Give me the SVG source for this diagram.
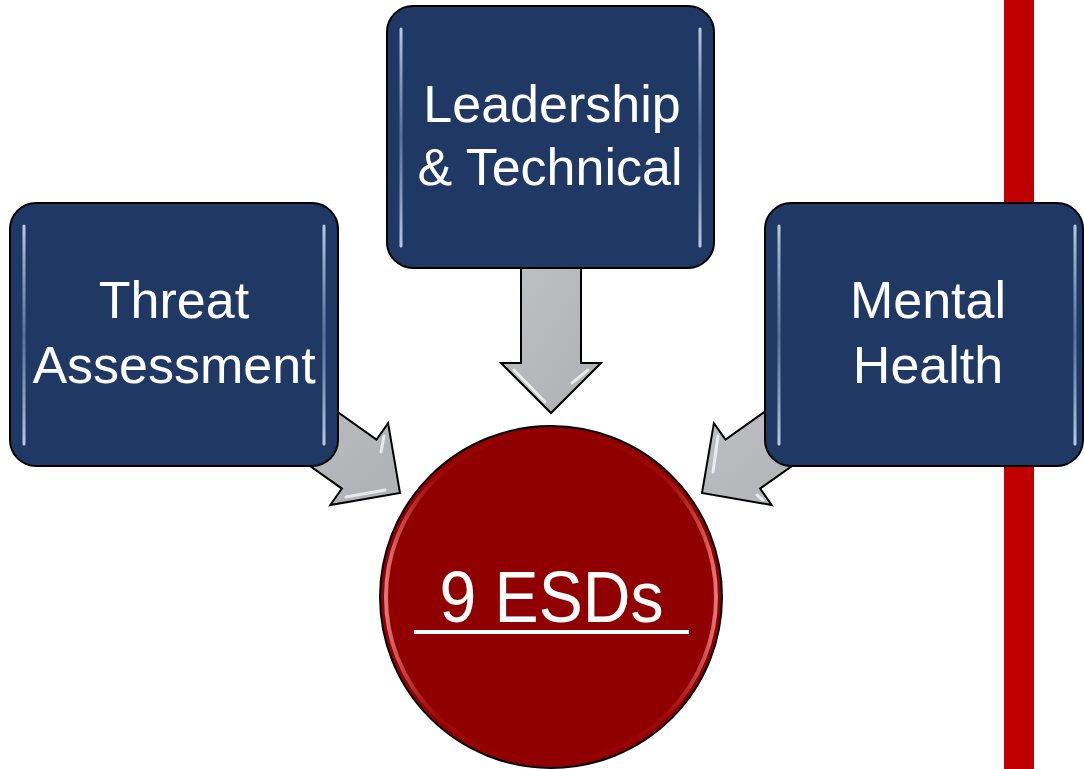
<svg xmlns="http://www.w3.org/2000/svg" width="1084" height="769" viewBox="0 0 1084 769">
  <defs>
    <style>
      .box { fill: #1F3864; stroke: #000; stroke-width: 2; }
      .gloss { stroke: url(#gv); stroke-width: 3; stroke-linecap: round; fill: none; }
      .lbl { font-family: "Liberation Sans", Arial, sans-serif; font-size: 52px; fill: #FFFFFF; text-anchor: middle; }
      .arrow { fill: url(#ag); stroke: #000; stroke-width: 2; stroke-linejoin: miter; }
      .shine { stroke: #FFFFFF; stroke-width: 3; stroke-linecap: round; opacity: 0.7; fill: none; }
    </style>
    <linearGradient id="gv" x1="0" y1="0" x2="0" y2="1">
      <stop offset="0" stop-color="#C9D8F2" stop-opacity="0.9"/>
      <stop offset="0.5" stop-color="#7E96C4" stop-opacity="0.6"/>
      <stop offset="1" stop-color="#C9D8F2" stop-opacity="0.9"/>
    </linearGradient>
    <linearGradient id="ag" x1="0" y1="0" x2="1" y2="1">
      <stop offset="0" stop-color="#BFC1C5"/>
      <stop offset="1" stop-color="#AEB0B4"/>
    </linearGradient>
    <linearGradient id="rim" x1="0" y1="0" x2="1" y2="0">
      <stop offset="0" stop-color="#F08A8A" stop-opacity="0.85"/>
      <stop offset="0.15" stop-color="#C03030" stop-opacity="0.25"/>
      <stop offset="0.5" stop-color="#910000" stop-opacity="0"/>
      <stop offset="0.85" stop-color="#C03030" stop-opacity="0.25"/>
      <stop offset="1" stop-color="#F08A8A" stop-opacity="0.85"/>
    </linearGradient>
  </defs>

  <!-- red vertical bar -->
  <rect x="1004" y="0" width="30" height="769" fill="#C00000"/>

  <!-- connectors (block arrows) -->
  <g id="connectors">
    <polygon class="arrow" points="521,262 581,262 581,363 601,363 551,413 501,363 521,363"/>
    <path class="shine" d="M514,370 L545,402 M588,370 L572,383"/>
    <polygon class="arrow" points="400,493 388.1,423.2 376.5,439.6 278.5,370.2 243.9,419.2 341.9,488.6 330.3,505"/>
    <path class="shine" d="M384,436 L381,452 M346,497 L385,490"/>
    <polygon class="arrow" points="702,493 713.9,423.2 725.5,439.6 823.5,370.2 858.1,419.2 760.1,488.6 771.7,505"/>
    <path class="shine" d="M718,436 L713,472 M757,495 L763,500"/>
  </g>

  <!-- Threat Assessment -->
  <g id="node-threat">
    <rect class="box" x="10" y="203" width="328" height="263" rx="26" ry="26"/>
    <path class="gloss" d="M24,226 L24,444 M324,226 L324,444"/>
    <text class="lbl" x="174" y="318">Threat</text>
    <text class="lbl" x="174" y="383">Assessment</text>
  </g>

  <!-- Leadership & Technical -->
  <g id="node-leadership">
    <rect class="box" x="387" y="6" width="327" height="262" rx="26" ry="26"/>
    <path class="gloss" d="M401,29 L401,246 M700,29 L700,246"/>
    <text class="lbl" x="552" y="122">Leadership</text>
    <text class="lbl" x="550" y="185">&amp; Technical</text>
  </g>

  <!-- Mental Health -->
  <g id="node-mental">
    <rect class="box" x="765" y="203" width="318" height="263" rx="26" ry="26"/>
    <path class="gloss" d="M779,226 L779,444 M1075,226 L1075,444"/>
    <text class="lbl" x="928" y="318">Mental</text>
    <text class="lbl" x="928" y="383">Health</text>
  </g>

  <!-- 9 ESDs -->
  <g id="node-esds">
    <circle cx="551" cy="597" r="171" fill="#910000" stroke="#000" stroke-width="2"/>
    <circle cx="551" cy="597" r="165" fill="none" stroke="url(#rim)" stroke-width="4"/>
    <text x="551.5" y="622" font-family="Liberation Sans, Arial, sans-serif" font-size="72" fill="#FFFFFF" text-anchor="middle" textLength="224" lengthAdjust="spacingAndGlyphs">9 ESDs</text>
    <rect x="414" y="630" width="275" height="4" fill="#FFFFFF"/>
  </g>
</svg>
